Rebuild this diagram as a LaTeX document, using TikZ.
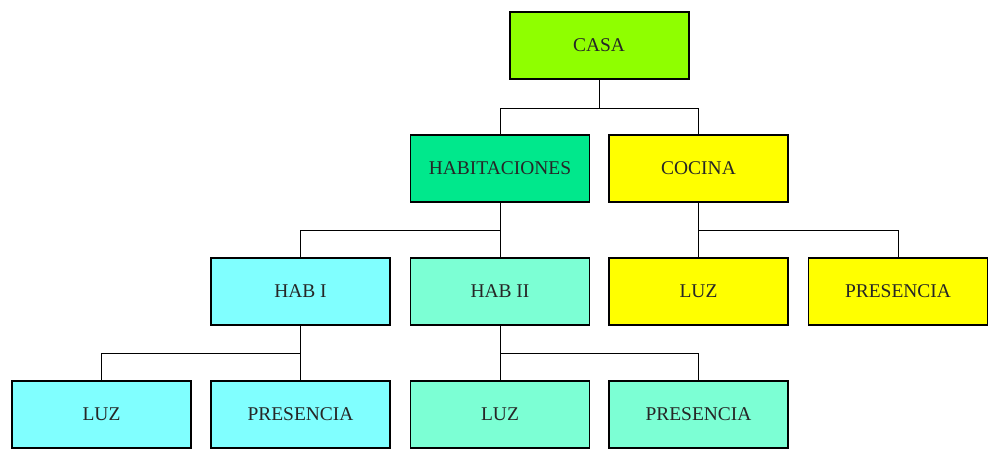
\documentclass[tikz,border=0pt]{standalone}
\usepackage{fontspec}
\setmainfont{Liberation Serif}
\begin{document}
\begin{tikzpicture}[x=0.75pt,y=-0.75pt,
  box/.style={draw=black,line width=0.8pt,minimum width=179*0.75pt,minimum height=67*0.75pt,inner sep=0pt,text=black!85,font=\fontsize{14.6}{17}\selectfont},
  link/.style={draw=black,line width=0.75pt}]
\definecolor{ccasa}{RGB}{143,255,0}
\definecolor{chab}{RGB}{0,232,140}
\definecolor{ccoc}{RGB}{255,255,0}
\definecolor{chabi}{RGB}{128,255,255}
\definecolor{chabii}{RGB}{124,255,212}
\useasboundingbox[fill=white] (0,0) rectangle (1000,461);
\node[box,fill=ccasa,line width=1.5pt] (casa) at (599,45) {CASA};
\node[box,fill=chab] (hab) at (500,168.5) {HABITACIONES};
\node[box,fill=ccoc] (coc) at (698.5,168.5) {COCINA};
\node[box,fill=chabi] (habi) at (300.5,291.5) {HAB I};
\node[box,fill=chabii] (habii) at (500,291.5) {HAB II};
\node[box,fill=ccoc] (cluz) at (698.5,291.5) {LUZ};
\node[box,fill=ccoc] (cpres) at (898,291.5) {PRESENCIA};
\node[box,fill=chabi] (luz1) at (101.5,414.5) {LUZ};
\node[box,fill=chabi] (pres1) at (300.5,414.5) {PRESENCIA};
\node[box,fill=chabii] (luz2) at (500,414.5) {LUZ};
\node[box,fill=chabii] (pres2) at (698.5,414.5) {PRESENCIA};
\draw[link] (casa.south) -- ++(0,28.5) -| (hab.north);
\draw[link] (casa.south) -- ++(0,28.5) -| (coc.north);
\draw[link] (hab.south) -- ++(0,28) -| (habi.north);
\draw[link] (hab.south) -- (habii.north);
\draw[link] (coc.south) -- ++(0,28) -| (cpres.north);
\draw[link] (coc.south) -- (cluz.north);
\draw[link] (habi.south) -- ++(0,28) -| (luz1.north);
\draw[link] (habi.south) -- (pres1.north);
\draw[link] (habii.south) -- ++(0,28) -| (pres2.north);
\draw[link] (habii.south) -- (luz2.north);
\end{tikzpicture}
\end{document}
